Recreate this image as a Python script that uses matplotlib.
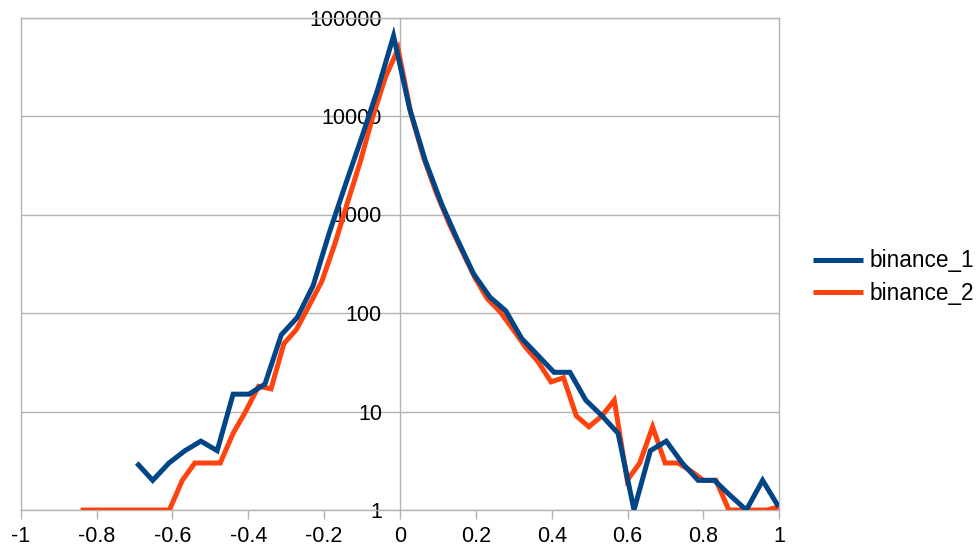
import matplotlib
matplotlib.use("Agg")
import matplotlib.pyplot as plt

plt.rcParams['font.family'] = ['Liberation Sans', 'DejaVu Sans']

# binance_1: bin centres and counts
b1_x = [-0.694, -0.652, -0.609, -0.567, -0.525, -0.482, -0.440, -0.398, -0.356,
        -0.313, -0.271, -0.229, -0.186, -0.144, -0.102, -0.059, -0.017, 0.025,
        0.067, 0.110, 0.152, 0.194, 0.237, 0.279, 0.321, 0.364, 0.406, 0.448,
        0.490, 0.533, 0.575, 0.617, 0.660, 0.702, 0.744, 0.786, 0.829, 0.871,
        0.913, 0.956, 0.998]
b1_y = [3, 2, 3, 4, 5, 4, 15, 15, 19, 60, 90, 190, 660, 2000, 5900, 18500, 65000,
        12000, 3500, 1270, 550, 250, 145, 105, 55, 37, 25, 25, 13, 9, 6, 1, 4, 5,
        3, 2, 2, 1.4, 1, 2, 1.08]

# binance_2: bin centres and counts
b2_x = [-0.842, -0.809, -0.775, -0.742, -0.708, -0.675, -0.641, -0.608, -0.574,
        -0.541, -0.507, -0.474, -0.440, -0.407, -0.373, -0.340, -0.306, -0.273,
        -0.239, -0.206, -0.172, -0.139, -0.105, -0.072, -0.038, -0.005, 0.029,
        0.063, 0.096, 0.130, 0.163, 0.197, 0.230, 0.264, 0.297, 0.331, 0.364,
        0.398, 0.431, 0.465, 0.498, 0.532, 0.565, 0.599, 0.632, 0.666, 0.699,
        0.733, 0.766, 0.800, 0.833, 0.867, 0.900, 0.934, 0.967, 1.000]
b2_y = [1, 1, 1, 1, 1, 1, 1, 1, 2, 3, 3, 3, 6, 10, 18, 17, 49, 68, 120, 210, 500,
        1300, 3400, 9800, 25000, 48000, 10500, 3700, 1650, 800, 430, 230, 140,
        103, 69, 45, 32, 20, 22, 9, 7, 9, 13, 2, 3, 7, 3, 3, 2.5, 2, 2, 1, 1, 1,
        1, 1.08]

x_ticks = [-1, -0.8, -0.6, -0.4, -0.2, 0, 0.2, 0.4, 0.6, 0.8, 1]
x_labels = ['-1', '-0.8', '-0.6', '-0.4', '-0.2', '0', '0.2', '0.4', '0.6', '0.8', '1']
y_ticks = [1, 10, 100, 1000, 10000, 100000]
y_labels = ['1', '10', '100', '1000', '10000', '100000']

BLUE = '#004586'
ORANGE = '#ff420e'
GRID = '#b3b3b3'
FS = 15.5

fig = plt.figure(figsize=(9.77, 5.46), dpi=100)
ax = fig.add_axes([20.7 / 977, 1 - 510 / 546, (779.3 - 20.7) / 977, (510 - 17.5) / 546])

ax.set_yscale('log')
ax.set_xlim(-1, 1)
ax.set_ylim(1, 100000)

ax.plot(b2_x, b2_y, color=ORANGE, lw=3.6, label='binance_2', zorder=3,
        solid_joinstyle='miter', solid_capstyle='butt')
ax.plot(b1_x, b1_y, color=BLUE, lw=3.6, label='binance_1', zorder=4,
        solid_joinstyle='miter', solid_capstyle='butt')

# horizontal grid only
ax.set_yticks(y_ticks)
ax.set_yticklabels(y_labels, fontsize=FS)
ax.yaxis.set_minor_locator(matplotlib.ticker.NullLocator())
ax.grid(axis='y', color=GRID, lw=1.0, zorder=0)

# y axis drawn through x = 0
ax.spines['left'].set_position(('data', 0))
ax.spines['left'].set_color(GRID)
ax.spines['left'].set_linewidth(1.0)
ax.tick_params(axis='y', length=0, pad=13, labelsize=FS)

ax.set_xticks(x_ticks)
ax.set_xticklabels(x_labels, fontsize=FS)
ax.tick_params(axis='x', direction='out', length=6.5, width=1.0, color=GRID, pad=5,
               labelsize=FS)

for side in ('top', 'right', 'bottom'):
    ax.spines[side].set_color(GRID)
    ax.spines[side].set_linewidth(1.0)
ax.axvline(-1, color=GRID, lw=1.0, zorder=1, clip_on=False)

handles, labels = ax.get_legend_handles_labels()
fig.legend(handles[::-1], labels[::-1], loc='center left',
           bbox_to_anchor=(813 / 977, 1 - 277 / 546), frameon=False,
           fontsize=16.3, handlelength=2.2, handletextpad=0.3, labelspacing=0.4,
           borderpad=0, borderaxespad=0)

fig.savefig('out.png', dpi=100)
